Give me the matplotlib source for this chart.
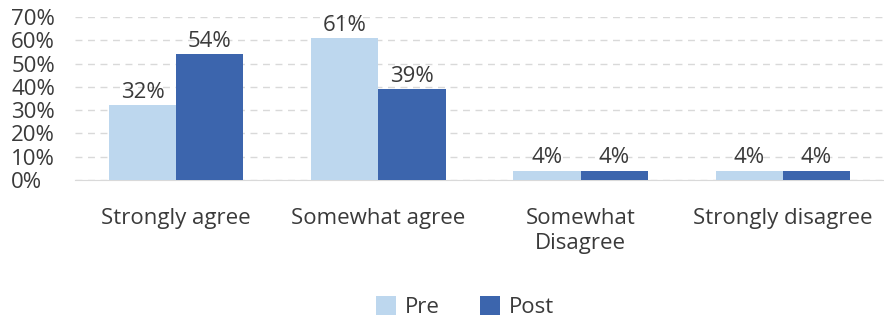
import matplotlib.pyplot as plt
import numpy as np

categories = ['Strongly agree', 'Somewhat agree', 'Somewhat\nDisagree', 'Strongly disagree']
pre = [32, 61, 4, 4]
post = [54, 39, 4, 4]

plt.rcParams['font.family'] = ['Open Sans', 'DejaVu Sans']
fs = 16
txt = '#3a3a3a'

fig = plt.figure(figsize=(8.84, 3.21), dpi=100)
ax = fig.add_axes([75 / 884, 1 - 180 / 321, 809 / 884, 163 / 321])

x = np.arange(len(categories))
w = 0.333
b1 = ax.bar(x - w / 2, pre, w, color='#BDD7EE', label='Pre', zorder=3)
b2 = ax.bar(x + w / 2, post, w, color='#3C65AD', label='Post', zorder=3)
for bars, vals in ((b1, pre), (b2, post)):
    for r, v in zip(bars, vals):
        ax.text(r.get_x() + r.get_width() / 2, v + 1.0, f'{v}%', ha='center', va='bottom',
                fontsize=fs, color=txt, zorder=4)

ax.set_xlim(-0.5, 3.5)
ax.set_ylim(0, 70)
ax.set_yticks(range(0, 71, 10))
ax.set_yticklabels([f'{t}%' for t in range(0, 71, 10)])
ax.set_xticks(x)
ax.set_xticklabels(categories, linespacing=1.25)
ax.tick_params(length=0, labelsize=fs, colors=txt)
ax.tick_params(axis='x', pad=20)
for lab in ax.get_yticklabels():
    lab.set_horizontalalignment('left')
    lab.set_x(-59 / 809)
ax.yaxis.grid(True, color='#d9d9d9', linestyle=(0, (5, 4)), linewidth=1, zorder=0)
for s in ['top', 'right', 'left']:
    ax.spines[s].set_visible(False)
ax.spines['bottom'].set_color('#d9d9d9')

fig.legend(loc='center', bbox_to_anchor=(465 / 884, 1 - 307 / 321), ncol=2, frameon=False,
           fontsize=fs, handlelength=0.9, handleheight=0.9, columnspacing=1.8,
           handletextpad=0.4, labelcolor=txt)

fig.savefig('out.png', dpi=100)
